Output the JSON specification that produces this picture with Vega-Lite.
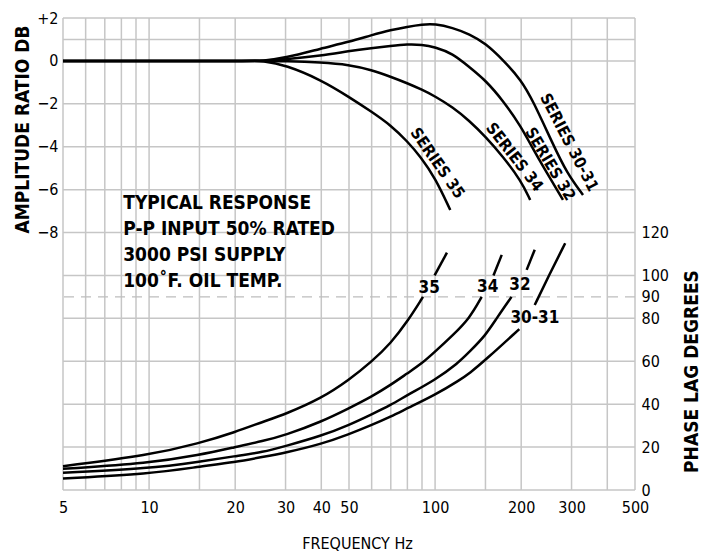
{
  "$schema": "https://vega.github.io/schema/vega-lite/v6.json",
  "width": 572,
  "height": 472,
  "autosize": {"type": "none"},
  "padding": {"left": 63, "top": 18, "right": 77, "bottom": 62},
  "background": "white",
  "config": {
    "font": "Liberation Sans Narrow, DejaVu Sans Condensed, Roboto Condensed, Arial Narrow, Roboto",
    "view": {"stroke": null},
    "axis": {"labelColor": "#000", "titleColor": "#000"}
  },
  "datasets": {
    "amp": [
      {"s": "30-31", "f": 5, "db": 0}, {"s": "30-31", "f": 15, "db": 0}, {"s": "30-31", "f": 22, "db": 0}, {"s": "30-31", "f": 25, "db": 0}, {"s": "30-31", "f": 30, "db": 0.14}, {"s": "30-31", "f": 40, "db": 0.58}, {"s": "30-31", "f": 50, "db": 0.89}, {"s": "30-31", "f": 60, "db": 1.2}, {"s": "30-31", "f": 70, "db": 1.44}, {"s": "30-31", "f": 80, "db": 1.59}, {"s": "30-31", "f": 90, "db": 1.7}, {"s": "30-31", "f": 100, "db": 1.73}, {"s": "30-31", "f": 115, "db": 1.55}, {"s": "30-31", "f": 132, "db": 1.25}, {"s": "30-31", "f": 150, "db": 0.82}, {"s": "30-31", "f": 173, "db": 0.04}, {"s": "30-31", "f": 200, "db": -0.89}, {"s": "30-31", "f": 220, "db": -1.86}, {"s": "30-31", "f": 258, "db": -3.87}, {"s": "30-31", "f": 289, "db": -5.23}, {"s": "30-31", "f": 329, "db": -6.25},
      {"s": "32", "f": 5, "db": 0}, {"s": "32", "f": 15, "db": 0}, {"s": "32", "f": 22, "db": 0}, {"s": "32", "f": 25, "db": 0}, {"s": "32", "f": 30, "db": 0.07}, {"s": "32", "f": 40, "db": 0.24}, {"s": "32", "f": 50, "db": 0.46}, {"s": "32", "f": 60, "db": 0.6}, {"s": "32", "f": 70, "db": 0.7}, {"s": "32", "f": 80, "db": 0.78}, {"s": "32", "f": 90, "db": 0.76}, {"s": "32", "f": 100, "db": 0.64}, {"s": "32", "f": 115, "db": 0.35}, {"s": "32", "f": 132, "db": -0.3}, {"s": "32", "f": 150, "db": -0.9}, {"s": "32", "f": 173, "db": -1.86}, {"s": "32", "f": 200, "db": -3.07}, {"s": "32", "f": 215, "db": -3.87}, {"s": "32", "f": 246, "db": -5.23}, {"s": "32", "f": 280, "db": -6.48},
      {"s": "34", "f": 5, "db": 0}, {"s": "34", "f": 15, "db": 0}, {"s": "34", "f": 22, "db": 0}, {"s": "34", "f": 25, "db": 0}, {"s": "34", "f": 30, "db": -0.01}, {"s": "34", "f": 40, "db": -0.07}, {"s": "34", "f": 50, "db": -0.18}, {"s": "34", "f": 60, "db": -0.42}, {"s": "34", "f": 70, "db": -0.74}, {"s": "34", "f": 80, "db": -1.04}, {"s": "34", "f": 90, "db": -1.34}, {"s": "34", "f": 100, "db": -1.65}, {"s": "34", "f": 115, "db": -2.15}, {"s": "34", "f": 132, "db": -2.8}, {"s": "34", "f": 150, "db": -3.53}, {"s": "34", "f": 173, "db": -4.47}, {"s": "34", "f": 200, "db": -5.6}, {"s": "34", "f": 215, "db": -6.48},
      {"s": "35", "f": 5, "db": 0}, {"s": "35", "f": 15, "db": 0}, {"s": "35", "f": 22, "db": 0}, {"s": "35", "f": 25, "db": 0}, {"s": "35", "f": 30, "db": -0.19}, {"s": "35", "f": 40, "db": -0.89}, {"s": "35", "f": 50, "db": -1.68}, {"s": "35", "f": 60, "db": -2.37}, {"s": "35", "f": 70, "db": -3.0}, {"s": "35", "f": 80, "db": -3.75}, {"s": "35", "f": 89, "db": -4.47}, {"s": "35", "f": 100, "db": -5.45}, {"s": "35", "f": 113, "db": -6.95}
    ],
    "phase": [
      {"s": "35", "seg": "a", "f": 5, "p": 11.1}, {"s": "35", "seg": "a", "f": 10, "p": 16.2}, {"s": "35", "seg": "a", "f": 15, "p": 21.8}, {"s": "35", "seg": "a", "f": 20, "p": 27}, {"s": "35", "seg": "a", "f": 25, "p": 31.8}, {"s": "35", "seg": "a", "f": 30, "p": 35.4}, {"s": "35", "seg": "a", "f": 40, "p": 42.7}, {"s": "35", "seg": "a", "f": 50, "p": 51.3}, {"s": "35", "seg": "a", "f": 60, "p": 59.8}, {"s": "35", "seg": "a", "f": 70, "p": 68.4}, {"s": "35", "seg": "a", "f": 80, "p": 78.5}, {"s": "35", "seg": "a", "f": 90.7, "p": 90},
      {"s": "35", "seg": "b", "f": 99.6, "p": 100}, {"s": "35", "seg": "b", "f": 110, "p": 110.6},
      {"s": "34", "seg": "a", "f": 5, "p": 9.85}, {"s": "34", "seg": "a", "f": 10, "p": 12.5}, {"s": "34", "seg": "a", "f": 15, "p": 16.3}, {"s": "34", "seg": "a", "f": 20, "p": 20}, {"s": "34", "seg": "a", "f": 25, "p": 22.8}, {"s": "34", "seg": "a", "f": 30, "p": 25.6}, {"s": "34", "seg": "a", "f": 40, "p": 31.8}, {"s": "34", "seg": "a", "f": 50, "p": 38.1}, {"s": "34", "seg": "a", "f": 60, "p": 43.5}, {"s": "34", "seg": "a", "f": 70, "p": 49}, {"s": "34", "seg": "a", "f": 80, "p": 54.4}, {"s": "34", "seg": "a", "f": 90, "p": 59}, {"s": "34", "seg": "a", "f": 100, "p": 64.5}, {"s": "34", "seg": "a", "f": 115, "p": 72}, {"s": "34", "seg": "a", "f": 132, "p": 80}, {"s": "34", "seg": "a", "f": 145.5, "p": 90},
      {"s": "34", "seg": "b", "f": 160, "p": 100}, {"s": "34", "seg": "b", "f": 171, "p": 109.6},
      {"s": "32", "seg": "a", "f": 5, "p": 8}, {"s": "32", "seg": "a", "f": 10, "p": 10}, {"s": "32", "seg": "a", "f": 15, "p": 13.2}, {"s": "32", "seg": "a", "f": 20, "p": 15.8}, {"s": "32", "seg": "a", "f": 25, "p": 17.6}, {"s": "32", "seg": "a", "f": 30, "p": 20.5}, {"s": "32", "seg": "a", "f": 40, "p": 25.2}, {"s": "32", "seg": "a", "f": 50, "p": 30.3}, {"s": "32", "seg": "a", "f": 60, "p": 35.3}, {"s": "32", "seg": "a", "f": 70, "p": 39.6}, {"s": "32", "seg": "a", "f": 80, "p": 44.3}, {"s": "32", "seg": "a", "f": 100, "p": 51.3}, {"s": "32", "seg": "a", "f": 120, "p": 59}, {"s": "32", "seg": "a", "f": 132, "p": 64.5}, {"s": "32", "seg": "a", "f": 150, "p": 72}, {"s": "32", "seg": "a", "f": 164, "p": 80}, {"s": "32", "seg": "a", "f": 185, "p": 90},
      {"s": "32", "seg": "b", "f": 209, "p": 102.6}, {"s": "32", "seg": "b", "f": 223, "p": 112},
      {"s": "30-31", "seg": "a", "f": 5, "p": 5.4}, {"s": "30-31", "seg": "a", "f": 10, "p": 7.5}, {"s": "30-31", "seg": "a", "f": 15, "p": 10.9}, {"s": "30-31", "seg": "a", "f": 20, "p": 13}, {"s": "30-31", "seg": "a", "f": 25, "p": 15.4}, {"s": "30-31", "seg": "a", "f": 30, "p": 17.4}, {"s": "30-31", "seg": "a", "f": 40, "p": 21.4}, {"s": "30-31", "seg": "a", "f": 50, "p": 26}, {"s": "30-31", "seg": "a", "f": 60, "p": 30.3}, {"s": "30-31", "seg": "a", "f": 70, "p": 34.2}, {"s": "30-31", "seg": "a", "f": 80, "p": 38.1}, {"s": "30-31", "seg": "a", "f": 100, "p": 44.3}, {"s": "30-31", "seg": "a", "f": 122, "p": 51.3}, {"s": "30-31", "seg": "a", "f": 132, "p": 54.4}, {"s": "30-31", "seg": "a", "f": 150, "p": 60.6}, {"s": "30-31", "seg": "a", "f": 197, "p": 75},
      {"s": "30-31", "seg": "b", "f": 223, "p": 86.2}, {"s": "30-31", "seg": "b", "f": 250, "p": 100}, {"s": "30-31", "seg": "b", "f": 285, "p": 115}
    ],
    "vgrid": [{"f": 5}, {"f": 6}, {"f": 7}, {"f": 8}, {"f": 9}, {"f": 10}, {"f": 15}, {"f": 20}, {"f": 30}, {"f": 40}, {"f": 50}, {"f": 60}, {"f": 70}, {"f": 80}, {"f": 90}, {"f": 100}, {"f": 150}, {"f": 200}, {"f": 300}, {"f": 400}, {"f": 500}],
    "hgrid": [{"p": 0}, {"p": 20}, {"p": 40}, {"p": 60}, {"p": 80}, {"p": 100}, {"p": 120}, {"p": 140}, {"p": 160}, {"p": 180}, {"p": 200}, {"p": 210}, {"p": 220}],
    "notes": [
      {"f": 8.12, "db": -6.62, "t": "TYPICAL RESPONSE"},
      {"f": 8.12, "db": -7.84, "t": "P-P INPUT 50% RATED"},
      {"f": 8.12, "db": -9.05, "t": "3000 PSI SUPPLY"},
      {"f": 8.12, "db": -10.26, "t": "100˚F. OIL TEMP."}
    ],
    "plabels": [
      {"f": 95.4, "p": 94, "t": "35"},
      {"f": 152.7, "p": 94.8, "t": "34"},
      {"f": 198, "p": 95.6, "t": "32"},
      {"f": 223.4, "p": 80, "t": "30-31"}
    ]
  },
  "encoding": {
    "x": {
      "field": "f", "type": "quantitative",
      "scale": {"type": "log", "domain": [5, 500], "nice": false, "zero": false},
      "axis": {
        "values": [5, 10, 20, 30, 40, 50, 100, 200, 300, 500],
        "format": "d", "title": "FREQUENCY Hz",
        "grid": false, "ticks": false, "domain": false,
        "labelFontSize": 16, "labelPadding": 9, "labelOverlap": false, "labelBound": false, "labelFlush": false,
        "titleFontSize": 16, "titleFontWeight": "normal", "titleX": 294, "titleY": 53, "titleBaseline": "middle", "titleAlign": "center"
      }
    }
  },
  "layer": [
    {
      "data": {"name": "vgrid"},
      "mark": {"type": "rule", "color": "#c6c6c6", "strokeWidth": 1.5},
      "encoding": {}
    },
    {
      "data": {"name": "hgrid"},
      "mark": {"type": "rule", "color": "#c6c6c6", "strokeWidth": 1.5},
      "encoding": {
        "x": null,
        "y": {"field": "p", "type": "quantitative", "scale": {"domain": [0, 220], "nice": false, "zero": false}, "axis": null}
      }
    },
    {
      "data": {"values": [{"p": 90}]},
      "mark": {"type": "rule", "color": "#bdbdbd", "strokeWidth": 1.3, "strokeDash": [10, 7]},
      "encoding": {
        "x": null,
        "y": {"field": "p", "type": "quantitative", "scale": {"domain": [0, 220], "nice": false, "zero": false}, "axis": null}
      }
    },
    {
      "data": {"name": "amp"},
      "mark": {"type": "line", "color": "#000", "strokeWidth": 2.5, "interpolate": "basis"},
      "encoding": {
        "y": {
          "field": "db", "type": "quantitative",
          "scale": {"domain": [-20, 2], "nice": false, "zero": false},
          "axis": {
            "orient": "left", "values": [2, 0, -2, -4, -6, -8],
            "labelExpr": "datum.value > 0 ? '+' + datum.label : datum.label",
            "ticks": false, "domain": false, "grid": false,
            "labelFontSize": 16, "labelPadding": 5, "labelOverlap": false, "labelBound": false,
            "title": "AMPLITUDE RATIO DB", "titleFontSize": 19, "titleFontWeight": "bold",
            "titleAngle": -90, "titleX": -35, "titleY": 111, "titleAlign": "center", "titleBaseline": "alphabetic"
          }
        },
        "detail": {"field": "s"}
      }
    },
    {
      "data": {"name": "phase"},
      "mark": {"type": "line", "color": "#000", "strokeWidth": 2.5, "interpolate": "basis"},
      "encoding": {
        "y": {
          "field": "p", "type": "quantitative",
          "scale": {"domain": [0, 220], "nice": false, "zero": false},
          "axis": {
            "orient": "right", "values": [0, 20, 40, 60, 80, 90, 100, 120],
            "ticks": false, "domain": false, "grid": false,
            "labelFontSize": 16, "labelPadding": 6, "labelOverlap": false, "labelBound": false,
            "title": "PHASE LAG DEGREES", "titleFontSize": 19, "titleFontWeight": "bold",
            "titleAngle": -90, "titleX": 62, "titleY": 353, "titleAlign": "center", "titleBaseline": "alphabetic"
          }
        },
        "detail": [{"field": "s"}, {"field": "seg"}]
      }
    },
    {
      "data": {"name": "notes"},
      "mark": {"type": "text", "align": "left", "baseline": "middle", "fontSize": 19, "fontWeight": "bold", "color": "#000"},
      "encoding": {
        "y": {"field": "db", "type": "quantitative", "scale": {"domain": [-20, 2], "nice": false, "zero": false}, "axis": null},
        "text": {"field": "t"}
      }
    },
    {
      "data": {"name": "plabels"},
      "mark": {"type": "text", "align": "center", "baseline": "middle", "fontSize": 17, "fontWeight": "bold", "color": "#000"},
      "encoding": {
        "y": {"field": "p", "type": "quantitative", "scale": {"domain": [0, 220], "nice": false, "zero": false}, "axis": null},
        "text": {"field": "t"}
      }
    },
    {
      "data": {"values": [{"f": 101.8, "db": -4.77, "t": "SERIES 35"}]},
      "mark": {"type": "text", "align": "center", "baseline": "middle", "fontSize": 16, "fontWeight": "bold", "angle": 55, "color": "#000"},
      "encoding": {
        "y": {"field": "db", "type": "quantitative", "scale": {"domain": [-20, 2], "nice": false, "zero": false}, "axis": null},
        "text": {"field": "t"}
      }
    },
    {
      "data": {"values": [{"f": 189.5, "db": -4.49, "t": "SERIES 34"}]},
      "mark": {"type": "text", "align": "center", "baseline": "middle", "fontSize": 16, "fontWeight": "bold", "angle": 52, "color": "#000"},
      "encoding": {
        "y": {"field": "db", "type": "quantitative", "scale": {"domain": [-20, 2], "nice": false, "zero": false}, "axis": null},
        "text": {"field": "t"}
      }
    },
    {
      "data": {"values": [{"f": 252.3, "db": -4.81, "t": "SERIES 32"}]},
      "mark": {"type": "text", "align": "center", "baseline": "middle", "fontSize": 16, "fontWeight": "bold", "angle": 59, "color": "#000"},
      "encoding": {
        "y": {"field": "db", "type": "quantitative", "scale": {"domain": [-20, 2], "nice": false, "zero": false}, "axis": null},
        "text": {"field": "t"}
      }
    },
    {
      "data": {"values": [{"f": 293.9, "db": -3.8, "t": "SERIES 30-31"}]},
      "mark": {"type": "text", "align": "center", "baseline": "middle", "fontSize": 16, "fontWeight": "bold", "angle": 62.5, "color": "#000"},
      "encoding": {
        "y": {"field": "db", "type": "quantitative", "scale": {"domain": [-20, 2], "nice": false, "zero": false}, "axis": null},
        "text": {"field": "t"}
      }
    }
  ],
  "resolve": {"scale": {"y": "independent"}}
}
